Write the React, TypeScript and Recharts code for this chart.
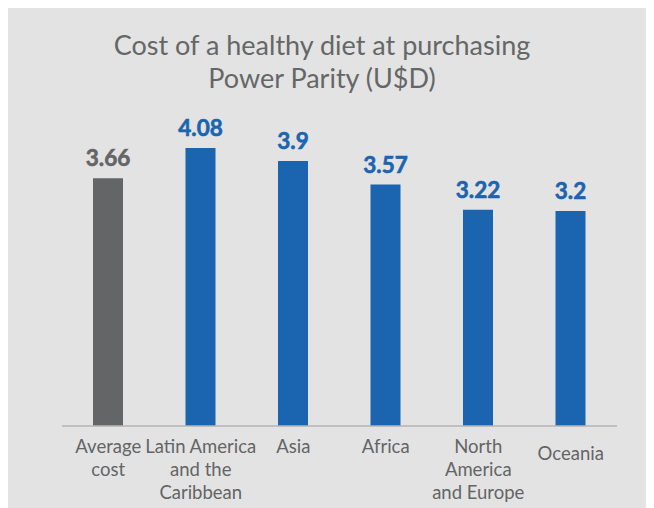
import { BarChart, Bar, XAxis, YAxis, Cell, LabelList } from "recharts";

const regions = [
  "Average\ncost",
  "Latin America\nand the\nCaribbean",
  "Asia",
  "Africa",
  "North\nAmerica\nand Europe",
  "Oceania",
];
const costs = [3.66, 4.08, 3.9, 3.57, 3.22, 3.2];

const GREY = "#636566";
const BLUE = "#1a64b0";
const TEXT = "#636566";

const data = regions.map((name, i) => ({ name, cost: costs[i] }));

const Tick = (props: any) => {
  const { x, y, payload } = props;
  const lines: string[] = String(payload.value).split("\n");
  const shift = payload.value === "Oceania" ? 7 : 0;
  return (
    <text x={x} y={y + 19 + shift} textAnchor="middle" fill={TEXT} fontSize={18.5} fontFamily="Lato">
      {lines.map((l, i) => (
        <tspan key={i} x={x} dy={i === 0 ? 0 : 23}>
          {l}
        </tspan>
      ))}
    </text>
  );
};

const ValueLabel = (props: any) => {
  const { x, y, width, value, index } = props;
  return (
    <text
      x={x + width / 2}
      y={y - 12}
      textAnchor="middle"
      fill={index === 0 ? GREY : BLUE}
      stroke={index === 0 ? GREY : BLUE}
      strokeWidth={0.6}
      fontSize={22.5}
      fontWeight="bold"
      fontFamily="Lato"
    >
      {value}
    </text>
  );
};

export default function App() {
  return (
    <div
      style={{
        position: "relative",
        width: 646,
        height: 504,
        marginTop: -4,
        background: "#e3e3e3",
        fontFamily: "Lato",
      }}
    >
      <div
        style={{
          position: "absolute",
          top: 24,
          left: -9,
          width: 646,
          textAlign: "center",
          fontSize: 27,
          lineHeight: "33px",
          color: "#656767",
        }}
      >
        Cost of a healthy diet at purchasing
        <br />
        Power Parity (U$D)
      </div>
      <BarChart
        width={646}
        height={504}
        data={data}
        margin={{ top: 114, right: 37, bottom: 12, left: 54 }}
        barCategoryGap="68%"
      >
        <XAxis
          dataKey="name"
          interval={0}
          tickLine={false}
          axisLine={{ stroke: "#b5b5b5", strokeWidth: 1.5 }}
          tick={<Tick />}
          height={70}
        />
        <YAxis hide domain={[0.2, 4.5]} />
        <Bar dataKey="cost" isAnimationActive={false} barSize={30}>
          {data.map((d, i) => (
            <Cell key={d.name} fill={i === 0 ? GREY : BLUE} />
          ))}
          <LabelList dataKey="cost" content={<ValueLabel />} />
        </Bar>
      </BarChart>
    </div>
  );
}
